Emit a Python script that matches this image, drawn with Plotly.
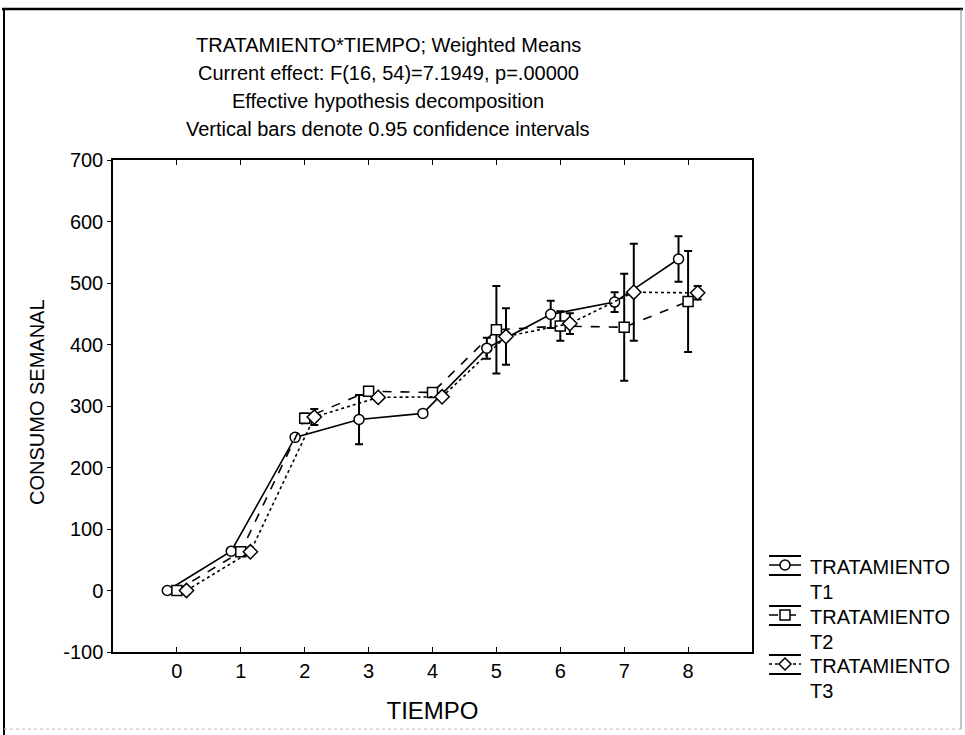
import plotly.graph_objects as go

tiempo = [0, 1, 2, 3, 4, 5, 6, 7, 8]
y_tickvals = [-100, 0, 100, 200, 300, 400, 500, 600, 700]
y_ticktext = ["-100", "0", "100", "200", "300", "400", "500", "600", "700"]
series_names = ["TRATAMIENTO<br>T1", "TRATAMIENTO<br>T2", "TRATAMIENTO<br>T3"]
legend_line1 = ["TRATAMIENTO", "TRATAMIENTO", "TRATAMIENTO"]
legend_line2 = ["T1", "T2", "T3"]
t1_mean = [0, 64, 249, 278, 288, 394, 449, 469, 539]
t1_ci = [3, 4, 4, 40, 3, 17, 22, 16, 37]
t2_mean = [0, 63, 280, 324, 322, 424, 430, 428, 470]
t2_ci = [3, 4, 8, 5, 4, 71, 24, 87, 82]
t3_mean = [0, 63, 282, 314, 315, 413, 434, 485, 484]
t3_ci = [3, 4, 13, 4, 4, 46, 17, 79, 11]

offsets = [-0.15, 0.0, 0.15]
means = [t1_mean, t2_mean, t3_mean]
cis = [t1_ci, t2_ci, t3_ci]
dashes = ["solid", "dash", "dot"]
symbols = ["circle", "square", "diamond"]
msizes = [10, 10, 11]

FONT = "Liberation Sans, Arial, sans-serif"
FS = 20

fig = go.Figure()
for name, m, c, off, d, s, ms in zip(series_names, means, cis, offsets, dashes, symbols, msizes):
    fig.add_trace(go.Scatter(
        x=[t + off for t in tiempo], y=m, name=name, mode="lines+markers",
        line=dict(color="black", width=1.6, dash=d),
        marker=dict(symbol=s, size=ms, color="white", line=dict(color="black", width=1.5)),
        error_y=dict(type="data", array=c, visible=True, color="black", thickness=2, width=4),
        showlegend=False, hoverinfo="skip",
    ))

# plot area in page pixels: x 113..752, y 160..652
L, R, T, B = 113, 752, 160, 652
W, H = 965, 735
def px(x):
    return (x - L) / (R - L)
def py(y):
    return (B - y) / (B - T)

titles = [
    "TRATAMIENTO*TIEMPO; Weighted Means",
    "Current effect: F(16, 54)=7.1949, p=.00000",
    "Effective hypothesis decomposition",
    "Vertical bars denote 0.95 confidence intervals",
]
ann = []
for i, t in enumerate(titles):
    ann.append(dict(text=t, xref="paper", yref="paper", x=px(388), y=py(45 + i * 28),
                    xanchor="center", yanchor="middle", showarrow=False,
                    font=dict(family=FONT, size=FS, color="black")))
ann.append(dict(text="CONSUMO SEMANAL", xref="paper", yref="paper", x=px(37), y=py(402),
                xanchor="center", yanchor="middle", textangle=-90, showarrow=False,
                font=dict(family=FONT, size=FS, color="black")))

shapes = [
    dict(type="line", xref="paper", yref="paper", x0=px(2), x1=px(963), y0=py(9), y1=py(9),
         line=dict(color="black", width=2.5)),
    dict(type="line", xref="paper", yref="paper", x0=px(4), x1=px(4), y0=py(9), y1=py(735),
         line=dict(color="black", width=2)),
    dict(type="line", xref="paper", yref="paper", x0=px(961), x1=px(961), y0=py(9), y1=py(729),
         line=dict(color="#888888", width=1)),
    dict(type="line", xref="paper", yref="paper", x0=px(4), x1=px(961), y0=py(729), y1=py(729),
         line=dict(color="#bbbbbb", width=1, dash="dot")),
]

# manual legend (symbol with CI caps, marker, text)
leg_mid = [565, 615, 664]
for i in range(3):
    ym = leg_mid[i]
    x0, x1, xc = 769, 801, 785
    shapes.append(dict(type="line", xref="paper", yref="paper", x0=px(x0), x1=px(x1),
                       y0=py(ym - 9), y1=py(ym - 9), line=dict(color="black", width=2)))
    shapes.append(dict(type="line", xref="paper", yref="paper", x0=px(x0), x1=px(x1),
                       y0=py(ym + 10), y1=py(ym + 10), line=dict(color="black", width=2)))
    shapes.append(dict(type="line", xref="paper", yref="paper", x0=px(x0), x1=px(x1),
                       y0=py(ym), y1=py(ym), line=dict(color="black", width=1.5, dash=dashes[i])))
    r = 5
    if symbols[i] == "circle":
        shapes.append(dict(type="circle", xref="paper", yref="paper", x0=px(xc - r), x1=px(xc + r),
                           y0=py(ym + r), y1=py(ym - r), fillcolor="white",
                           line=dict(color="black", width=1.5)))
    elif symbols[i] == "square":
        shapes.append(dict(type="rect", xref="paper", yref="paper", x0=px(xc - r), x1=px(xc + r),
                           y0=py(ym + r), y1=py(ym - r), fillcolor="white",
                           line=dict(color="black", width=1.5)))
    else:
        rr = 6
        path = (f"M {px(xc - rr)} {py(ym)} L {px(xc)} {py(ym - rr)} L {px(xc + rr)} {py(ym)} "
                f"L {px(xc)} {py(ym + rr)} Z")
        shapes.append(dict(type="path", xref="paper", yref="paper", path=path, fillcolor="white",
                           line=dict(color="black", width=1.5)))
    ann.append(dict(text=legend_line1[i], xref="paper", yref="paper", x=px(808), y=py(ym + 2),
                    xanchor="left", yanchor="middle", showarrow=False,
                    font=dict(family=FONT, size=FS, color="black")))
    ann.append(dict(text=legend_line2[i], xref="paper", yref="paper", x=px(808), y=py(ym + 27),
                    xanchor="left", yanchor="middle", showarrow=False,
                    font=dict(family=FONT, size=FS, color="black")))

fig.update_layout(
    width=W, height=H,
    margin=dict(l=L, r=W - R, t=T, b=H - B),
    paper_bgcolor="white", plot_bgcolor="white",
    font=dict(family=FONT, size=FS, color="black"),
    annotations=ann, shapes=shapes,
    showlegend=False, hovermode=False,
    yaxis2=dict(overlaying="y", side="right", range=[-100, 700], tickvals=y_tickvals,
                ticks="inside", ticklen=4, tickcolor="black", showticklabels=False,
                showgrid=False, zeroline=False, showline=False),
)
fig.update_xaxes(range=[-1, 9], tickvals=tiempo, ticktext=[str(t) for t in tiempo],
                 showgrid=False, zeroline=False, showline=True, linecolor="black", linewidth=1.5,
                 mirror="ticks", ticks="inside", ticklen=5, tickcolor="black",
                 title=dict(text="TIEMPO", standoff=21), tickfont=dict(size=FS))
fig.update_layout(yaxis=dict(range=[-100, 700], tickvals=y_tickvals, ticktext=y_ticktext,
                             showgrid=False, zeroline=False, showline=True, linecolor="black",
                             linewidth=1.5, mirror=True, ticks="outside", ticklen=4,
                             tickcolor="black", tickfont=dict(size=FS)))

fig.write_html("out.html", config={"displayModeBar": False},
               post_script="document.body.style.margin='0';")
